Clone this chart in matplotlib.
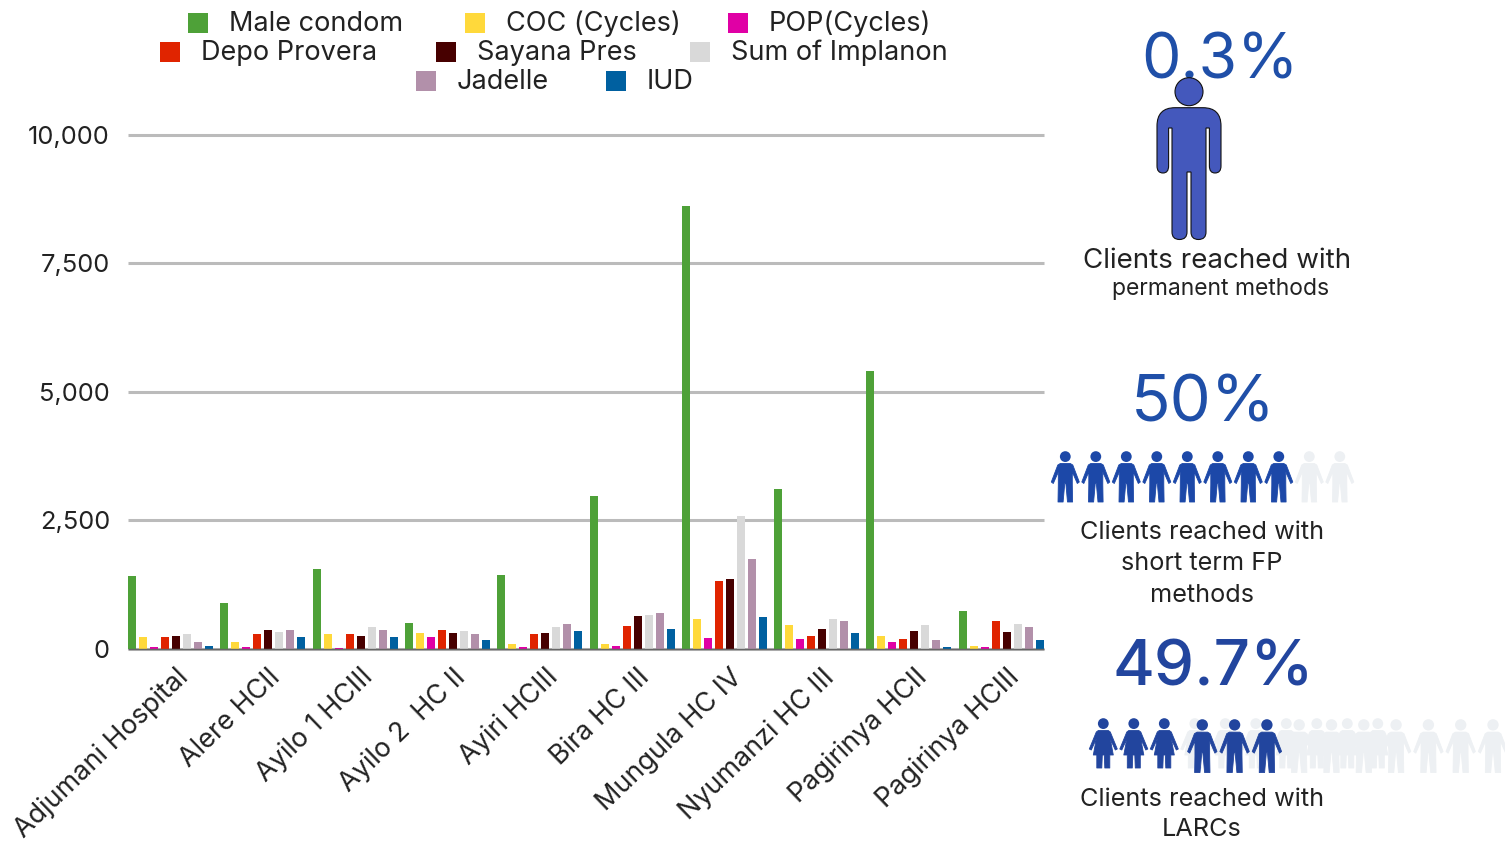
#!/usr/bin/env python3
import numpy as np
import matplotlib
matplotlib.use("Agg")
import matplotlib.pyplot as plt
from matplotlib.patches import Circle, PathPatch, Polygon, Rectangle
from matplotlib.path import Path

plt.rcParams["font.family"] = ["Inter", "DejaVu Sans"]

facilities = ["Adjumani Hospital", "Alere HCII", "Ayilo 1 HCIII", "Ayilo 2  HC II", "Ayiri HCIII",
              "Bira HC III", "Mungula HC IV", "Nyumanzi HC III", "Pagirinya HCII", "Pagirinya HCIII"]
male_condom = [1415, 889, 1551, 493, 1434, 2979, 8610, 3109, 5404, 733]
coc = [220, 136, 273, 305, 78, 84, 578, 454, 247, 52]
pop = [35, 35, 15, 220, 22, 40, 208, 182, 136, 35]
depo = [227, 279, 279, 370, 285, 435, 1311, 240, 188, 526]
sayana = [247, 357, 247, 311, 305, 642, 1350, 383, 344, 318]
implanon = [285, 325, 415, 344, 415, 662, 2583, 571, 454, 474]
jadelle = [123, 363, 363, 285, 474, 694, 1739, 526, 162, 415]
iud = [52, 227, 220, 169, 344, 389, 604, 299, 35, 169]

series = [male_condom, coc, pop, depo, sayana, implanon, jadelle, iud]
names = ["Male condom", "COC (Cycles)", "POP(Cycles)", "Depo Provera", "Sayana Pres",
         "Sum of Implanon", "Jadelle", "IUD"]
colors = ["#4EA138", "#FFD93B", "#E000A5", "#E02400", "#470000", "#D9D9D9", "#B290AA", "#0060A0"]
yticks = [0, 2500, 5000, 7500, 10000]

W, H = 1505, 843
fig = plt.figure(figsize=(W / 100, H / 100), dpi=100)
ax = fig.add_axes([128 / W, (H - 648.5) / H, 916 / W, 513.5 / H])

group_px = 92.3
step = 11 / group_px
x = np.arange(len(facilities))
for j, (vals, c) in enumerate(zip(series, colors)):
    ax.bar(x + j * step, vals, 8 / group_px, align="edge", color=c, zorder=3)

ax.set_xlim(0, 916 / group_px)
ax.set_ylim(0, 10000)
ax.set_yticks(yticks)
ax.set_yticklabels([f"{v:,}" for v in yticks], fontsize=18.3, color="#222222")
ax.set_xticks(x + 47.5 / group_px)
ax.set_xticklabels(facilities, rotation=44, ha="right", rotation_mode="anchor", fontsize=19.4, color="#222222")
ax.tick_params(axis="both", length=0)
ax.tick_params(axis="y", pad=13)
ax.tick_params(axis="x", pad=11)
ax.grid(axis="y", color="#BBBBBB", linewidth=2.2, zorder=1, clip_on=False, solid_capstyle="butt")
for s in ["top", "left", "right"]:
    ax.spines[s].set_visible(False)
ax.spines["bottom"].set_color("#666666")
ax.spines["bottom"].set_linewidth(1.0)
ax.spines["bottom"].set_capstyle("butt")
ax.spines["bottom"].set_zorder(4)

# overlay in pixel coordinates for legend, icons and side text
ov = fig.add_axes([0, 0, 1, 1])
ov.set_xlim(0, W)
ov.set_ylim(H, 0)
ov.axis("off")

legend_pos = [(188, 23), (465, 23), (728, 23), (160, 52), (436, 52), (690, 52), (416, 81), (606, 81)]
for name, c, (lx, ly) in zip(names, colors, legend_pos):
    ov.add_patch(Rectangle((lx, ly - 10), 20, 20, color=c, lw=0))
    ov.text(lx + 41, ly + 1, name, fontsize=19.5, va="center", ha="left", color="#222222")


def person(cx, top, scale, color, female=False):
    ov.add_patch(Circle((cx, top + 5.6 * scale), 5.4 * scale, color=color, lw=0))
    if female:
        half = [(0, 12.5), (5, 12.5), (7, 14), (14, 31), (12, 32), (7, 21), (10, 37), (6.5, 37),
                (6.5, 50), (1.5, 50), (1, 37), (0, 37)]
    else:
        half = [(0, 12.5), (5, 12.5), (7.5, 14), (14, 31), (12, 32.5), (7, 21), (7, 34), (7.3, 51),
                (2.2, 51), (0.5, 32), (0, 32)]
    pts = half + [(-a, b) for a, b in half[::-1]]
    pts = [(cx + a * scale, top + b * scale) for a, b in pts]
    ov.add_patch(Polygon(pts, closed=True, facecolor=color, edgecolor=color, lw=0.6, joinstyle="round"))


blue_a, blue_b, pale = "#1C48A8", "#22459E", "#EDF0F3"

short_filled = 8
for i in range(10):
    person(1065.3 + 30.5 * i, 451, 1.0, blue_a if i < short_filled else pale)

larc_filled = 3
for i in range(10):
    person(1103.3 + 30.5 * i, 718, 1.0, blue_b if i < larc_filled else pale, female=True)
for i in range(10):
    if i >= larc_filled:
        person(1202.3 + 32.3 * i, 719, 1.05, pale)
for i in range(larc_filled):
    person(1202.3 + 32.3 * i, 719, 1.05, blue_b)

# big figure, permanent methods
cx = 1189
M, L, C = Path.MOVETO, Path.LINETO, Path.CURVE3
big = [
    (M, -14, 107.7), (L, 14, 107.7), (C, 32, 107.7), (C, 32, 126), (L, 32, 166),
    (C, 32, 173), (C, 26, 173), (C, 20.4, 173), (C, 20.4, 166), (L, 20.4, 128), (L, 17, 128),
    (L, 17, 232), (C, 17, 239.5), (C, 9.5, 239.5), (C, 2, 239.5), (C, 2, 232),
    (L, 2, 172), (L, -2, 172), (L, -2, 232), (C, -2, 239.5), (C, -9.5, 239.5),
    (C, -17, 239.5), (C, -17, 232), (L, -17, 128), (L, -20.4, 128), (L, -20.4, 166),
    (C, -20.4, 173), (C, -26, 173), (C, -32, 173), (C, -32, 166), (L, -32, 126),
    (C, -32, 107.7), (C, -14, 107.7),
]
path = Path([(cx + a, b) for _, a, b in big], [k for k, _, _ in big])
ov.add_patch(PathPatch(path, facecolor="#4458BC", edgecolor="#111111", lw=0.8, zorder=5))
ov.add_patch(Circle((cx, 91.7), 14, facecolor="#4458BC", edgecolor="#111111", lw=0.8, zorder=5))

ov.text(1220, 62, "0.3%", fontsize=45, color="#1F4FA8", ha="center", va="center", weight="normal", zorder=4)
ov.text(1203, 404, "50%", fontsize=47, color="#1F4FA8", ha="center", va="center", weight="normal")
ov.text(1213, 669, "49.7%", fontsize=46, color="#22459E", ha="center", va="center", weight="medium")

ov.text(1217, 261, "Clients reached with", fontsize=20, ha="center", va="center", color="#222222")
ov.text(1221, 289, "permanent methods", fontsize=16.5, ha="center", va="center", color="#222222")
for yy, t in zip([532.5, 564, 596], ["Clients reached with", "short term FP", "methods"]):
    ov.text(1202, yy, t, fontsize=18.2, ha="center", va="center", color="#222222")
for yy, t in zip([800, 830], ["Clients reached with", "LARCs"]):
    ov.text(1202, yy, t, fontsize=18.2, ha="center", va="center", color="#222222")

fig.savefig("out.png", dpi=100)
